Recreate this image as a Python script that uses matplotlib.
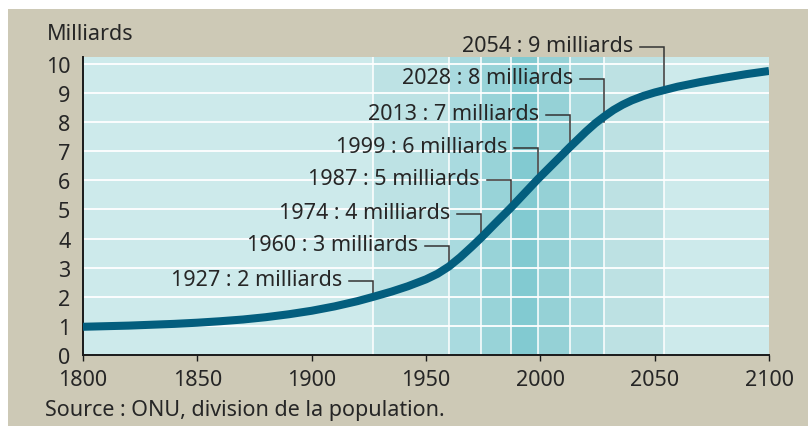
import matplotlib
matplotlib.use('Agg')
import matplotlib.pyplot as plt
from matplotlib.patches import Rectangle

# population mondiale (milliards)
years = [1800, 1810, 1820, 1830, 1840, 1850, 1860, 1870, 1880, 1890, 1900, 1910,
         1920, 1927, 1935, 1942, 1946, 1950, 1955, 1960, 1965, 1970, 1974, 1980,
         1987, 1993, 1999, 2006, 2013, 2020, 2024, 2028, 2032, 2036, 2040, 2045,
         2050, 2054, 2060, 2070, 2080, 2090, 2100]
population = [0.97, 0.99, 1.01, 1.04, 1.07, 1.11, 1.16, 1.22, 1.3, 1.4, 1.52, 1.67,
              1.85, 2.0, 2.18, 2.36, 2.48, 2.6, 2.79, 3.04, 3.36, 3.72, 4.02, 4.5,
              5.05, 5.55, 6.05, 6.6, 7.15, 7.68, 7.96, 8.2, 8.42, 8.6, 8.75, 8.9,
              9.02, 9.1, 9.22, 9.38, 9.52, 9.65, 9.76]

# jalons
milestone_years = [1927, 1960, 1974, 1987, 1999, 2013, 2028, 2054]
milestone_values = [2, 3, 4, 5, 6, 7, 8, 9]
label_heights = [2.54, 3.75, 4.85, 6.01, 7.11, 8.25, 9.48, 10.58]

x_ticks = [1800, 1850, 1900, 1950, 2000, 2050, 2100]
y_ticks = list(range(0, 11))

beige = '#cdc9b6'
base = '#cdeaeb'
band_colors = ['#bde2e4', '#a9dadf', '#98d3d8', '#82cad1', '#95d1d6', '#a9dade', '#bde1e3']
curve_color = '#035e7e'
text_color = '#262626'

plt.rcParams['font.family'] = ['Noto Sans', 'DejaVu Sans']
plt.rcParams['font.size'] = 15.5
plt.rcParams['font.weight'] = 'medium'

W, H = 808, 427
fig = plt.figure(figsize=(W / 100, H / 100), dpi=100)
fig.patch.set_facecolor('white')
fig.patches.append(Rectangle((8 / W, 0), 1, 1 - 10 / H, transform=fig.transFigure,
                             facecolor=beige, edgecolor='none', zorder=-10))

ax_l, ax_b = 83 / W, 1 - 356 / H
ax_w, ax_h = (769 - 83) / W, (356 - 58) / H
ax = fig.add_axes([ax_l, ax_b, ax_w, ax_h])
ax.set_facecolor(base)
ax.set_xlim(1800, 2100)
ax.set_ylim(0, 10.24)

# bandes verticales
for i in range(len(milestone_years) - 1):
    ax.axvspan(milestone_years[i], milestone_years[i + 1], color=band_colors[i], lw=0, zorder=0)
for y in milestone_years:
    ax.axvline(y, color='white', lw=1.1, zorder=1)
for v in y_ticks[1:]:
    ax.axhline(v, color='white', lw=1.3, zorder=1)

ax.plot(years, population, color=curve_color, lw=5.8, solid_capstyle='butt',
        solid_joinstyle='round', zorder=4)

ppy = W * ax_w / 300.0  # pixels par an
for yr, val, ly in zip(milestone_years, milestone_values, label_heights):
    ax.plot([yr - 24 / ppy, yr, yr], [ly, ly, val], color='#333333', lw=1.1,
            zorder=3, clip_on=False, solid_joinstyle='miter')
    ax.text(yr - 31 / ppy, ly + 0.05, f'{yr} : {val} milliards', ha='right', va='center',
            color=text_color, zorder=5, clip_on=False)

for s in ['top', 'right']:
    ax.spines[s].set_visible(False)
for s in ['left', 'bottom']:
    ax.spines[s].set_color('#1a1a1a')
    ax.spines[s].set_linewidth(1.4)

ax.set_xticks(x_ticks)
ax.set_yticks(y_ticks)
ax.tick_params(axis='x', direction='out', length=4, width=1, color='#1a1a1a',
               pad=6, labelcolor=text_color)
ax.tick_params(axis='y', length=0, pad=9, labelcolor=text_color)

fig.text(47 / W, 1 - 34 / H, 'Milliards', ha='left', va='center', color=text_color)
fig.text(45 / W, 1 - 411 / H, 'Source : ONU, division de la population.', ha='left',
         va='center', color=text_color)

fig.savefig('out.png', dpi=100, facecolor=fig.get_facecolor())
